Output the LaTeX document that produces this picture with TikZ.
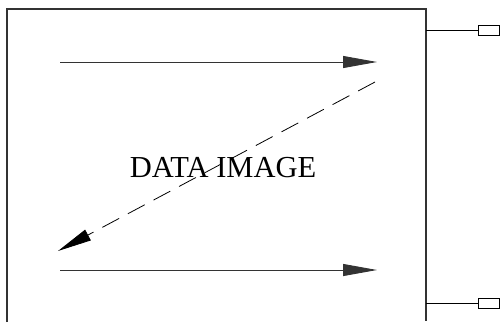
\documentclass[tikz,border=0pt]{standalone}
\usepackage{fontspec}
\setmainfont{Liberation Serif}
\usetikzlibrary{arrows.meta}
\begin{document}
\begin{tikzpicture}[x=1pt,y=-1pt,
  frame/.style={line width=1.3pt,black!80},
  flow/.style={line width=0.9pt,black!80,-{Triangle[length=34pt,width=12pt]}},
  scan/.style={line width=0.8pt,black,dash pattern=on 19pt off 10pt,-{Triangle[length=34pt,width=12pt]}},
  tab/.style={draw,line width=1pt,minimum width=21pt,minimum height=10pt,inner sep=0pt,anchor=west}]
\useasboundingbox (0,0) rectangle (500,322);
\coordinate (bl) at (7,322);
\coordinate (tl) at (7,9);
\coordinate (tr) at (426,9);
\coordinate (br) at (426,321);
\draw[frame] (bl) -- (tl) -- (tr) -- (br);
\coordinate (t1) at (426,30);
\coordinate (t2) at (426,303);
\node[tab] (p1) at (478,30) {};
\node[tab] (p2) at (478,303) {};
\draw[line width=1pt] (t1) -- (p1.west);
\draw[line width=1pt] (t2) -- (p2.west);
\coordinate (a1s) at (60,62);
\coordinate (a1e) at (377,62);
\coordinate (a2s) at (60,270);
\coordinate (a2e) at (377,270);
\draw[flow] (a1s) -- (a1e);
\draw[flow] (a2s) -- (a2e);
\node[font=\fontsize{30.5}{30.5}\selectfont,inner sep=0pt] (lbl) at (223,167.5) {DATA IMAGE};
\coordinate (ds) at (375,82);
\coordinate (de) at (58,251);
\draw[scan] (ds) -- (de);
\end{tikzpicture}
\end{document}
